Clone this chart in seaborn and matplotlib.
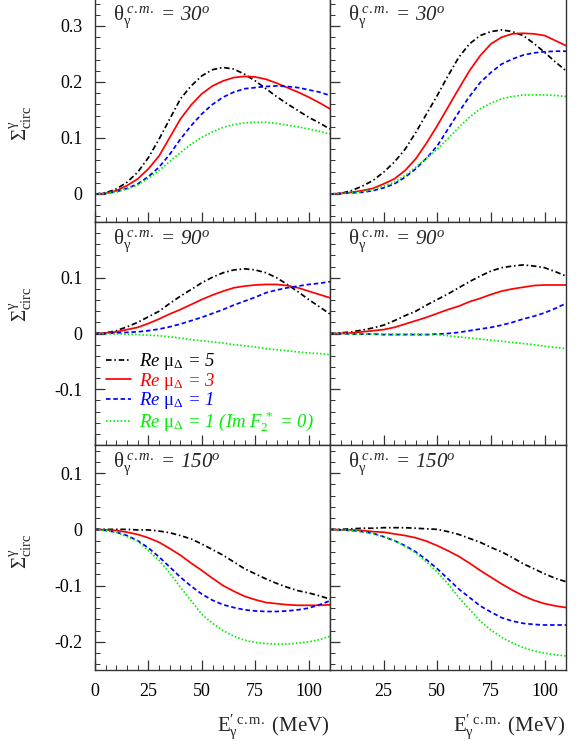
import numpy as np
import pandas as pd
import matplotlib
matplotlib.use("Agg")
import matplotlib.pyplot as plt
import seaborn as sns
from matplotlib.ticker import FixedLocator, MultipleLocator, FuncFormatter
from matplotlib.lines import Line2D

# ---------------- data ----------------
energy = [0, 5, 10, 15, 20, 25, 30, 35, 40, 45, 50, 55, 60, 65, 70, 75, 80, 85, 90, 95, 100, 105, 110]

# theta = 30 deg, left column
l30_mu5 = [0, 0.002, 0.009, 0.021, 0.039, 0.065, 0.098, 0.134, 0.170, 0.193, 0.211, 0.222, 0.226, 0.223, 0.214, 0.202, 0.188, 0.174, 0.161, 0.149, 0.137, 0.127, 0.116]
l30_mu3 = [0, 0.001, 0.006, 0.015, 0.027, 0.045, 0.068, 0.101, 0.134, 0.159, 0.179, 0.193, 0.202, 0.208, 0.210, 0.209, 0.205, 0.198, 0.190, 0.182, 0.173, 0.163, 0.152]
l30_mu1 = [0, 0.001, 0.004, 0.010, 0.018, 0.031, 0.048, 0.071, 0.098, 0.122, 0.143, 0.160, 0.173, 0.182, 0.188, 0.190, 0.192, 0.193, 0.192, 0.190, 0.186, 0.182, 0.176]
l30_mu1i = [0, 0.001, 0.004, 0.009, 0.016, 0.028, 0.042, 0.058, 0.074, 0.089, 0.101, 0.111, 0.119, 0.124, 0.127, 0.128, 0.128, 0.126, 0.123, 0.120, 0.116, 0.112, 0.107]
# theta = 30 deg, right column
r30_mu5 = [0, 0.001, 0.006, 0.014, 0.024, 0.039, 0.057, 0.080, 0.110, 0.143, 0.176, 0.211, 0.244, 0.268, 0.283, 0.290, 0.293, 0.290, 0.283, 0.269, 0.253, 0.236, 0.220]
r30_mu3 = [0, 0.001, 0.003, 0.006, 0.010, 0.018, 0.027, 0.042, 0.063, 0.091, 0.122, 0.155, 0.188, 0.220, 0.247, 0.268, 0.280, 0.286, 0.287, 0.286, 0.283, 0.274, 0.265]
r30_mu1 = [0, 0.001, 0.002, 0.003, 0.006, 0.011, 0.018, 0.030, 0.045, 0.064, 0.086, 0.116, 0.146, 0.174, 0.199, 0.217, 0.232, 0.241, 0.248, 0.252, 0.254, 0.255, 0.255]
r30_mu1i = [0, 0.001, 0.002, 0.004, 0.008, 0.014, 0.021, 0.033, 0.048, 0.064, 0.080, 0.099, 0.119, 0.137, 0.152, 0.162, 0.170, 0.174, 0.177, 0.177, 0.177, 0.176, 0.174]
# theta = 90 deg, left column
l90_mu5 = [0, 0.001, 0.005, 0.012, 0.020, 0.030, 0.040, 0.054, 0.067, 0.079, 0.091, 0.101, 0.109, 0.114, 0.116, 0.114, 0.109, 0.100, 0.088, 0.075, 0.061, 0.048, 0.035]
l90_mu3 = [0, 0.001, 0.003, 0.007, 0.011, 0.018, 0.026, 0.035, 0.043, 0.052, 0.061, 0.069, 0.076, 0.082, 0.085, 0.087, 0.088, 0.088, 0.086, 0.082, 0.076, 0.070, 0.064]
l90_mu1 = [0, 0.0, 0.001, 0.002, 0.003, 0.005, 0.008, 0.012, 0.017, 0.023, 0.029, 0.036, 0.043, 0.051, 0.058, 0.065, 0.073, 0.078, 0.082, 0.085, 0.088, 0.090, 0.093]
l90_mu1i = [0, 0.0, -0.001, -0.001, -0.002, -0.003, -0.004, -0.006, -0.008, -0.011, -0.013, -0.015, -0.017, -0.020, -0.022, -0.024, -0.027, -0.029, -0.031, -0.033, -0.035, -0.036, -0.038]
# theta = 90 deg, right column
r90_mu5 = [0, 0.001, 0.003, 0.006, 0.010, 0.015, 0.023, 0.032, 0.040, 0.051, 0.061, 0.071, 0.082, 0.093, 0.103, 0.112, 0.118, 0.121, 0.123, 0.121, 0.118, 0.111, 0.103]
r90_mu3 = [0, 0.0, 0.001, 0.003, 0.005, 0.007, 0.011, 0.017, 0.023, 0.029, 0.036, 0.043, 0.049, 0.057, 0.063, 0.070, 0.076, 0.080, 0.083, 0.086, 0.087, 0.087, 0.087]
r90_mu1 = [0, 0.0, -0.001, -0.001, -0.001, -0.002, -0.002, -0.002, -0.002, -0.002, -0.001, 0.0, 0.002, 0.005, 0.008, 0.011, 0.015, 0.020, 0.026, 0.031, 0.037, 0.045, 0.054]
r90_mu1i = [0, 0.0, -0.001, -0.001, -0.001, -0.001, -0.001, -0.001, -0.001, -0.002, -0.002, -0.004, -0.006, -0.008, -0.010, -0.012, -0.014, -0.016, -0.018, -0.020, -0.023, -0.025, -0.027]
# theta = 150 deg, left column
l150_mu5 = [0, 0.0, 0.0, 0.0, -0.001, -0.001, -0.003, -0.006, -0.011, -0.017, -0.026, -0.036, -0.046, -0.058, -0.070, -0.079, -0.088, -0.096, -0.103, -0.109, -0.113, -0.118, -0.124]
l150_mu3 = [0, -0.001, -0.002, -0.005, -0.009, -0.015, -0.023, -0.034, -0.046, -0.060, -0.073, -0.087, -0.100, -0.110, -0.119, -0.125, -0.130, -0.132, -0.134, -0.135, -0.135, -0.135, -0.134]
l150_mu1 = [0, -0.002, -0.005, -0.011, -0.020, -0.033, -0.049, -0.067, -0.085, -0.101, -0.115, -0.126, -0.134, -0.139, -0.143, -0.145, -0.146, -0.146, -0.145, -0.143, -0.140, -0.134, -0.127]
l150_mu1i = [0, -0.002, -0.005, -0.013, -0.021, -0.038, -0.055, -0.078, -0.103, -0.127, -0.151, -0.167, -0.180, -0.190, -0.197, -0.201, -0.203, -0.204, -0.204, -0.202, -0.200, -0.196, -0.190]
# theta = 150 deg, right column
r150_mu5 = [0, 0.0, 0.001, 0.002, 0.002, 0.003, 0.003, 0.003, 0.002, 0.001, 0.0, -0.004, -0.009, -0.016, -0.023, -0.032, -0.040, -0.050, -0.061, -0.070, -0.079, -0.087, -0.093]
r150_mu3 = [0, -0.001, -0.001, -0.002, -0.004, -0.005, -0.008, -0.011, -0.015, -0.021, -0.029, -0.038, -0.048, -0.060, -0.073, -0.085, -0.097, -0.108, -0.118, -0.126, -0.132, -0.136, -0.139]
r150_mu1 = [0, -0.001, -0.002, -0.004, -0.007, -0.013, -0.020, -0.029, -0.040, -0.054, -0.070, -0.088, -0.106, -0.121, -0.136, -0.147, -0.157, -0.163, -0.167, -0.169, -0.170, -0.170, -0.170]
r150_mu1i = [0, -0.001, -0.002, -0.004, -0.008, -0.013, -0.020, -0.030, -0.042, -0.058, -0.076, -0.097, -0.121, -0.142, -0.163, -0.179, -0.192, -0.202, -0.210, -0.216, -0.220, -0.223, -0.225]

angles = [30, 90, 150]
series_names = ["mu5", "mu3", "mu1", "mu1i"]
legend_labels = [
    r"Re $\mathrm{\mu}_{\Delta}$ = 5",
    r"Re $\mathrm{\mu}_{\Delta}$ = 3",
    r"Re $\mathrm{\mu}_{\Delta}$ = 1",
    r"Re $\mathrm{\mu}_{\Delta}$ = 1 (Im $F_{2}^{\,*}$ = 0)",
]
ylims = [(-0.05, 0.35), (-0.2, 0.2), (-0.25, 0.15)]
yticks_major = [[0, 0.1, 0.2, 0.3], [-0.1, 0, 0.1], [-0.2, -0.1, 0, 0.1]]
xticks_left = [0, 25, 50, 75, 100]
xticks_right = [25, 50, 75, 100]

panels = {
    (0, 0): [l30_mu5, l30_mu3, l30_mu1, l30_mu1i],
    (0, 1): [r30_mu5, r30_mu3, r30_mu1, r30_mu1i],
    (1, 0): [l90_mu5, l90_mu3, l90_mu1, l90_mu1i],
    (1, 1): [r90_mu5, r90_mu3, r90_mu1, r90_mu1i],
    (2, 0): [l150_mu5, l150_mu3, l150_mu1, l150_mu1i],
    (2, 1): [r150_mu5, r150_mu3, r150_mu1, r150_mu1i],
}

# ---------------- styling ----------------
sns.set_theme(style="ticks")
plt.rcParams["font.family"] = ["Liberation Serif", "DejaVu Serif"]
plt.rcParams["mathtext.fontset"] = "custom"
plt.rcParams["mathtext.rm"] = "Liberation Serif"
plt.rcParams["mathtext.it"] = "Liberation Serif:italic"
plt.rcParams["mathtext.bf"] = "Liberation Serif:bold"
plt.rcParams["axes.unicode_minus"] = False

colors = {"mu5": "#000000", "mu3": "#ff0000", "mu1": "#0000ff", "mu1i": "#00ee00"}
dashes = {"mu5": (3.2, 1.6, 0.9, 1.6), "mu3": None, "mu1": (2.6, 1.6), "mu1i": (0.9, 1.2)}

W, H = 581, 752
fig = plt.figure(figsize=(W / 100, H / 100), dpi=100)

col_px = [(95, 330), (330, 566)]
row_px = [(-2, 222), (222, 445), (445, 670)]
ylabel_pos = [0.44, 0.63, 0.53]

for (r, c), vals in panels.items():
    x0, x1 = col_px[c]
    y0, y1 = row_px[r]
    ax = fig.add_axes([x0 / W, 1 - y1 / H, (x1 - x0) / W, (y1 - y0) / H])
    for name, v in zip(series_names, vals):
        df = pd.DataFrame({"E": energy, "S": v})
        sns.lineplot(data=df, x="E", y="S", ax=ax, color=colors[name],
                     linewidth=1.25, estimator=None, sort=False)
        ln = ax.lines[-1]
        if dashes[name] is not None:
            ln.set_dashes(dashes[name])
    ax.set_xlim(0, 110)
    ax.set_ylim(*ylims[r])
    ax.set_xlabel("")
    ax.set_ylabel("")
    for sp in ax.spines.values():
        sp.set_visible(True)
        sp.set_color("#333333")
        sp.set_linewidth(1.0)
    ax.xaxis.set_major_locator(FixedLocator(xticks_left if c == 0 else xticks_right))
    ax.xaxis.set_minor_locator(MultipleLocator(5))
    ax.yaxis.set_major_locator(FixedLocator(yticks_major[r]))
    ax.yaxis.set_minor_locator(MultipleLocator(0.02))
    ax.tick_params(which="both", direction="in", top=False, right=False,
                   colors="#333333", labelcolor="black")
    ax.tick_params(which="major", length=7, width=0.9, labelsize=13, pad=9)
    ax.tick_params(which="minor", length=3.5, width=0.7)
    ax.yaxis.set_major_formatter(FuncFormatter(lambda v, p: f"{v:g}"))
    if r < 2:
        ax.tick_params(axis="x", labelbottom=False)
    if c == 1:
        ax.tick_params(axis="y", labelleft=False)
    else:
        ax.set_ylabel(r"$\Sigma^{\mathrm{\gamma}}_{\mathrm{circ}}$", fontsize=15,
                      rotation=90)
        ax.yaxis.set_label_coords(-0.26, ylabel_pos[r])
    ax.text(0.078, 0.975,
            r"$\mathrm{\theta}_{\mathrm{\gamma}}^{\ c.m.}$ = %d$^{o}$" % angles[r],
            transform=ax.transAxes, ha="left", va="top", fontsize=15,
            fontstyle="italic")
    if r == 2:
        ax.text(1.0, -0.19,
                r"$\mathrm{E}_{\mathrm{\gamma}}^{\prime\ \mathrm{c.m.}}$ (MeV)",
                transform=ax.transAxes, ha="right", va="top", fontsize=15)
    if (r, c) == (1, 0):
        handles = []
        for name in series_names:
            h = Line2D([], [], color=colors[name], linewidth=1.25)
            if dashes[name] is not None:
                h.set_dashes(dashes[name])
            handles.append(h)
        leg = ax.legend(handles, legend_labels, loc="lower left",
                        bbox_to_anchor=(0.0, 0.0), frameon=False,
                        prop={"size": 13.5, "style": "italic"},
                        handlelength=1.3, handletextpad=0.45, labelspacing=-0.08,
                        borderaxespad=0.3, borderpad=0.3)
        for t, name in zip(leg.get_texts(), series_names):
            t.set_color(colors[name])

fig.savefig("out.png", dpi=100)
